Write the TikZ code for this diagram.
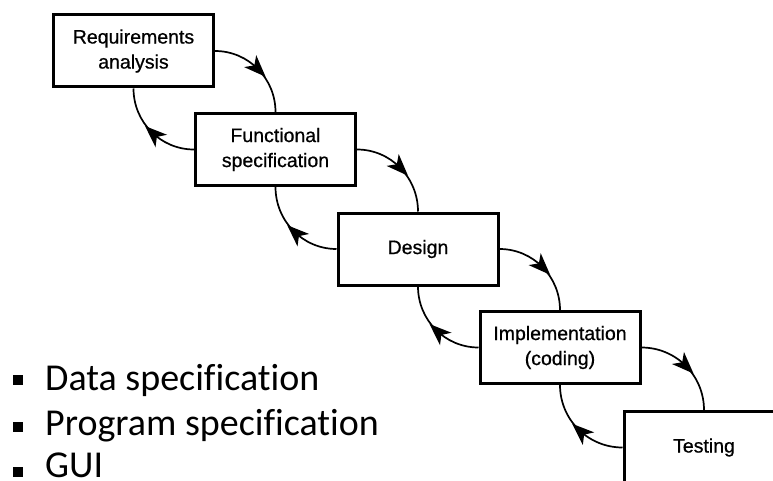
\documentclass[tikz,border=0pt]{standalone}
\usepackage{fontspec}
\setmainfont{Liberation Sans}
\newfontfamily\boxfont[FakeBold=0.7]{Liberation Sans}
\newfontfamily\bulletfont[Ligatures=NoCommon]{Carlito}
\usetikzlibrary{decorations.markings}
\begin{document}
\begin{tikzpicture}[x=1pt,y=1pt,
  stage/.style={draw, line width=3pt, minimum width=160pt, minimum height=72pt,
    inner sep=0pt, align=center, font=\boxfont\fontsize{19.5}{25}\selectfont},
  flow/.style={line width=1.7pt, postaction={decorate},
    decoration={markings, mark=at position #1 with
      {\fill (11pt,0pt) -- (-11pt,8.5pt) -- (-5pt,0pt) -- (-11pt,-8.5pt) -- cycle;}}},
  item/.style={anchor=base west, inner sep=0pt, font=\bulletfont\fontsize{38}{42}\selectfont},
  bulletsq/.style={fill=black, minimum size=10pt, inner sep=0pt}
]
\useasboundingbox (0,0) rectangle (773,480);
\clip (0,0) rectangle (773,480);

\node[stage] (r) at (133.5,429) {Requirements\\analysis};
\node[stage] (f) at (275.5,330.5) {Functional\\specification};
\node[stage] (d) at (418,231) {Design};
\node[stage] (i) at (560,132.5) {Implementation\\(coding)};
\node[stage] (t) at (704,32.5) {Testing};

\draw[flow=0.5] (r.east) to[out=0,in=90] (f.north);
\draw[flow=0.5] (f.east) to[out=0,in=90] (d.north);
\draw[flow=0.5] (d.east) to[out=0,in=90] (i.north);
\draw[flow=0.5] (i.east) to[out=0,in=90] (t.north);

\draw[flow=0.47] (f.west) to[out=180,in=-90] (r.south);
\draw[flow=0.47] (d.west) to[out=180,in=-90] (f.south);
\draw[flow=0.47] (i.west) to[out=180,in=-90] (d.south);
\draw[flow=0.47] (t.west) to[out=180,in=-90] (i.south);

\node[bulletsq] (b1) at (18,100) {};
\node[bulletsq] (b2) at (18,53) {};
\node[bulletsq] (b3) at (18,8) {};
\node[item] (l1) at (45,90) {Data specification};
\node[item] (l2) at (45,45) {Program specification};
\node[item] (l3) at (45,3) {GUI};
\end{tikzpicture}
\end{document}
